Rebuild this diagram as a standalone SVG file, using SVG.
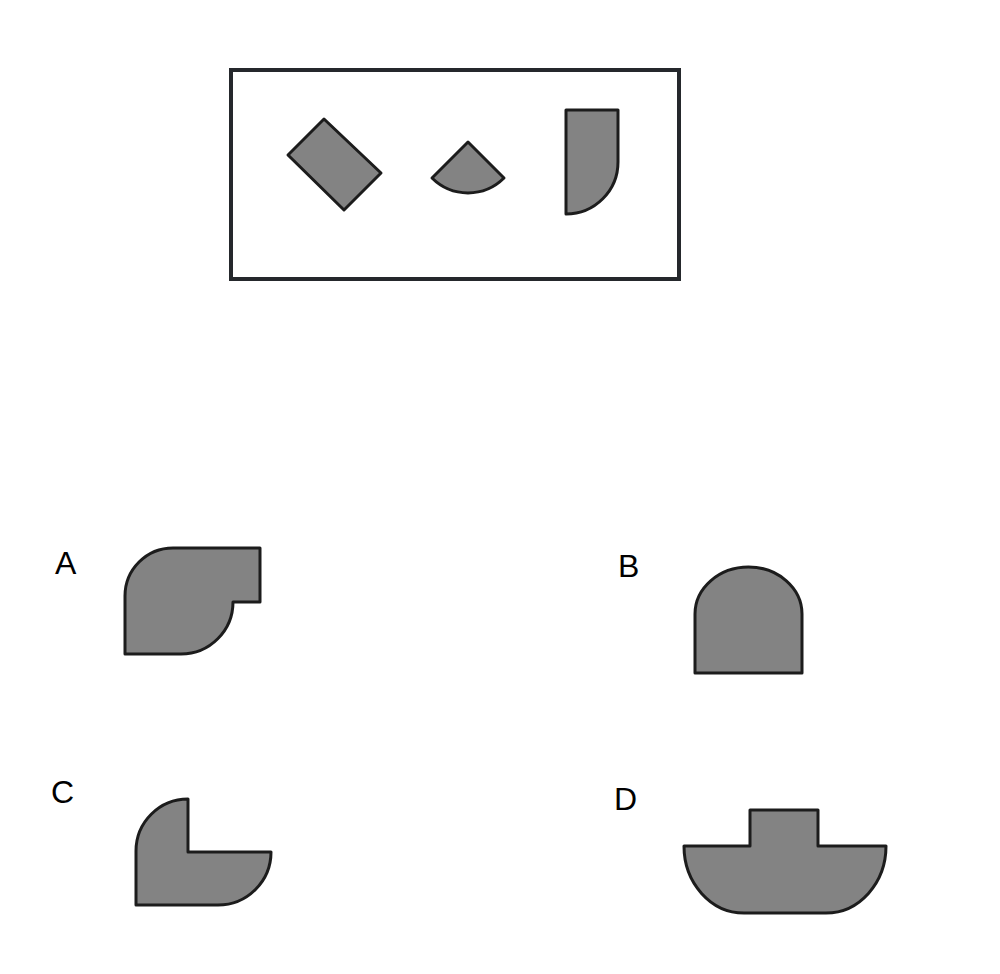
<svg xmlns="http://www.w3.org/2000/svg" width="1000" height="974" viewBox="0 0 1000 974">
<style>
.s{fill:#838383;stroke:#1c1c1c;stroke-width:3;stroke-linejoin:round}
.l{font-family:"Liberation Sans",Arial,sans-serif;font-size:32px;fill:#000}
</style>
<rect width="1000" height="974" fill="#fff"/>
<g id="frame">
<rect x="231" y="70" width="448" height="209" fill="none" stroke="#25282c" stroke-width="4"/>
</g>
<g id="q-rect"><polygon class="s" points="324,119 381,173 344,210 288,155"/></g>
<g id="q-sector"><path class="s" d="M468,142 L504,178 A51,51 0 0 1 432,178 Z"/></g>
<g id="q-d"><path class="s" d="M566,110 H618 V162 A52,52 0 0 1 566,214 Z"/></g>
<g id="opt-a">
<text class="l" x="55" y="574">A</text>
<path class="s" d="M125,654 V596 A48,48 0 0 1 173,548 H260 V602 H233 A52,52 0 0 1 181,654 Z"/>
</g>
<g id="opt-b">
<text class="l" x="618" y="577">B</text>
<path class="s" d="M695,673 V614 A53.5,47 0 0 1 802,614 V673 Z"/>
</g>
<g id="opt-c">
<text class="l" x="51" y="803">C</text>
<path class="s" d="M136,905 V851 A52,52 0 0 1 188,799 V852 H271 A53,53 0 0 1 218,905 Z"/>
</g>
<g id="opt-d">
<text class="l" x="614" y="810">D</text>
<path class="s" d="M750,810 H818 V846 H886 A60,67 0 0 1 826,913 H744 A60,67 0 0 1 684,846 H750 Z"/>
</g>
</svg>
